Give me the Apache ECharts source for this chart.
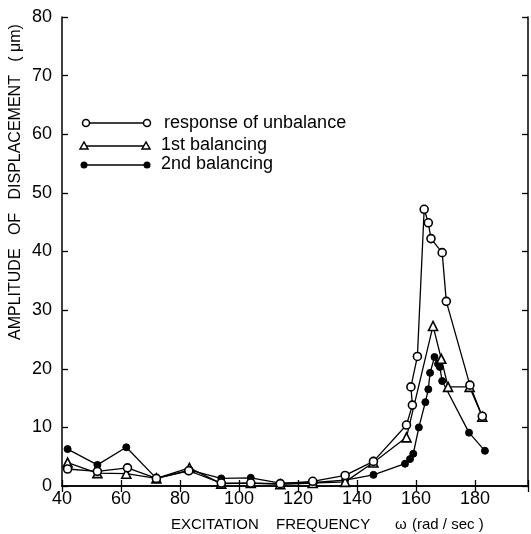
<!DOCTYPE html>
<html>
<head>
<meta charset="utf-8">
<script src="https://cdn.jsdelivr.net/npm/echarts@6/dist/echarts.min.js"></script>
<style>html,body{margin:0;padding:0;background:#fff;}#c{width:531px;height:534px;}</style>
</head>
<body>
<div id="c"></div>
<script>
// Response of unbalance (open circles)
const freqUnbalance = [41.9, 52, 62.2, 72, 83, 94, 104, 114, 125, 136, 145.6, 156.8, 158.8, 158.3, 160.5, 162.8, 164.2, 165.1, 168.9, 170.3, 178.3, 182.5];
const ampUnbalance  = [2.9, 2.5, 3.1, 1.3, 2.6, 0.5, 0.5, 0.4, 0.8, 1.8, 4.2, 10.4, 13.8, 16.9, 22.1, 47.2, 44.9, 42.2, 39.8, 31.5, 17.2, 11.9];
// 1st balancing (open triangles)
const freqFirst = [41.9, 52, 61.8, 72, 83.2, 94, 104, 114, 125, 136, 145.6, 156.8, 165.8, 168.6, 170.9, 178.2, 182.5];
const ampFirst  = [4.0, 2.2, 2.1, 1.3, 3.1, 0.4, 0.5, 0.3, 0.5, 0.7, 4.0, 8.3, 27.3, 21.7, 16.9, 16.9, 11.8];
// 2nd balancing (filled dots)
const freqSecond = [41.9, 52, 61.8, 72, 83.3, 94, 104, 114, 125.4, 136, 145.6, 156.3, 158, 159.1, 161, 163.2, 164.2, 164.8, 166.3, 167.5, 168.1, 168.9, 178, 183.4];
const ampSecond  = [6.3, 3.6, 6.6, 1.3, 2.7, 1.3, 1.4, 0.5, 0.6, 1.0, 1.9, 3.8, 4.6, 5.5, 10.0, 14.3, 16.5, 19.3, 22.0, 20.8, 20.3, 17.9, 9.1, 6.0];

const legendLabels = ['response of unbalance', '1st balancing', '2nd balancing'];
const xTitleParts = ['EXCITATION', 'FREQUENCY', '\u03c9', '(rad / sec )'];
const yTitle = 'AMPLITUDE   OF   DISPLACEMENT   ( \u03bcm)';

const FONT = "'Liberation Sans', Arial, sans-serif";
const pairs = (xs, ys) => xs.map((x, i) => [x, ys[i]]);

const chart = echarts.init(document.getElementById('c'), null, {renderer: 'canvas'});

const baseAxisLine = {show: true, lineStyle: {color: '#000', width: 1.5}};
const tickStyle = {show: true, inside: true, length: 6, lineStyle: {color: '#000', width: 1.3}};

const xTitlePos = [171, 276, 395, 412];

const option = {
  backgroundColor: '#fff',
  animation: false,
  grid: {left: 62, right: 2, top: 17, bottom: 48, containLabel: false},
  xAxis: [
    {
      type: 'value', min: 40, max: 198, interval: 20, position: 'bottom',
      axisLine: baseAxisLine, axisTick: tickStyle, splitLine: {show: false},
      axisLabel: {
        color: '#000', fontFamily: FONT, fontSize: 18, margin: 4,
        formatter: v => (v % 20 === 0 ? String(v) : '')
      }
    },
    {
      type: 'value', min: 40, max: 198, interval: 20, position: 'top',
      axisLine: baseAxisLine, axisTick: tickStyle, splitLine: {show: false},
      axisLabel: {show: false}
    }
  ],
  yAxis: [
    {
      type: 'value', min: 0, max: 80, interval: 10, position: 'left',
      axisLine: baseAxisLine, axisTick: tickStyle, splitLine: {show: false},
      axisLabel: {color: '#000', fontFamily: FONT, fontSize: 18, margin: 10}
    },
    {
      type: 'value', min: 0, max: 80, interval: 10, position: 'right',
      axisLine: baseAxisLine, axisTick: tickStyle, splitLine: {show: false},
      axisLabel: {show: false}
    }
  ],
  series: [
    {
      name: legendLabels[2], type: 'line', data: pairs(freqSecond, ampSecond),
      symbol: 'circle', symbolSize: 7, showAllSymbol: true,
      lineStyle: {color: '#000', width: 1.3},
      itemStyle: {color: '#000', borderColor: '#000', borderWidth: 1}
    },
    {
      name: legendLabels[1], type: 'line', data: pairs(freqFirst, ampFirst),
      symbol: 'triangle', symbolSize: 9, showAllSymbol: true,
      lineStyle: {color: '#000', width: 1.3},
      itemStyle: {color: '#fff', borderColor: '#000', borderWidth: 1.6}
    },
    {
      name: legendLabels[0], type: 'line', data: pairs(freqUnbalance, ampUnbalance),
      symbol: 'circle', symbolSize: 8, showAllSymbol: true,
      lineStyle: {color: '#000', width: 1.3},
      itemStyle: {color: '#fff', borderColor: '#000', borderWidth: 1.6}
    }
  ],
  graphic: [
    // legend row 1: open circles
    {type: 'line', shape: {x1: 86, y1: 123, x2: 147, y2: 123}, style: {stroke: '#000', lineWidth: 1.3}},
    {type: 'circle', shape: {cx: 86, cy: 123, r: 3.5}, style: {fill: '#fff', stroke: '#000', lineWidth: 1.5}},
    {type: 'circle', shape: {cx: 147, cy: 123, r: 3.5}, style: {fill: '#fff', stroke: '#000', lineWidth: 1.5}},
    {type: 'text', left: 164, top: 114, style: {text: legendLabels[0], font: '18px ' + FONT, fill: '#000'}},
    // legend row 2: triangles
    {type: 'line', shape: {x1: 84, y1: 146, x2: 146, y2: 146}, style: {stroke: '#000', lineWidth: 1.3}},
    {type: 'polygon', shape: {points: [[84, 142], [80, 149], [88, 149]]}, style: {fill: '#fff', stroke: '#000', lineWidth: 1.5}},
    {type: 'polygon', shape: {points: [[146, 142], [142, 149], [150, 149]]}, style: {fill: '#fff', stroke: '#000', lineWidth: 1.5}},
    {type: 'text', left: 161, top: 136, style: {text: legendLabels[1], font: '18px ' + FONT, fill: '#000'}},
    // legend row 3: dots
    {type: 'line', shape: {x1: 84, y1: 165, x2: 147, y2: 165}, style: {stroke: '#000', lineWidth: 1.3}},
    {type: 'circle', shape: {cx: 84, cy: 165, r: 3.5}, style: {fill: '#000'}},
    {type: 'circle', shape: {cx: 147, cy: 165, r: 3.5}, style: {fill: '#000'}},
    {type: 'text', left: 161, top: 155, style: {text: legendLabels[2], font: '18px ' + FONT, fill: '#000'}}
  ].concat(xTitleParts.map((t, i) => ({
    type: 'text', x: xTitlePos[i], y: 525,
    style: {text: t, font: '15px ' + FONT, fill: '#000', textAlign: 'left', textVerticalAlign: 'middle'}
  }))).concat([
    {type: 'text', x: 16, y: 340, rotation: Math.PI / 2, style: {text: yTitle, font: '16px ' + FONT, fill: '#000', textAlign: 'left', textVerticalAlign: 'middle'}}
  ])
};
chart.setOption(option);
</script>
</body>
</html>
